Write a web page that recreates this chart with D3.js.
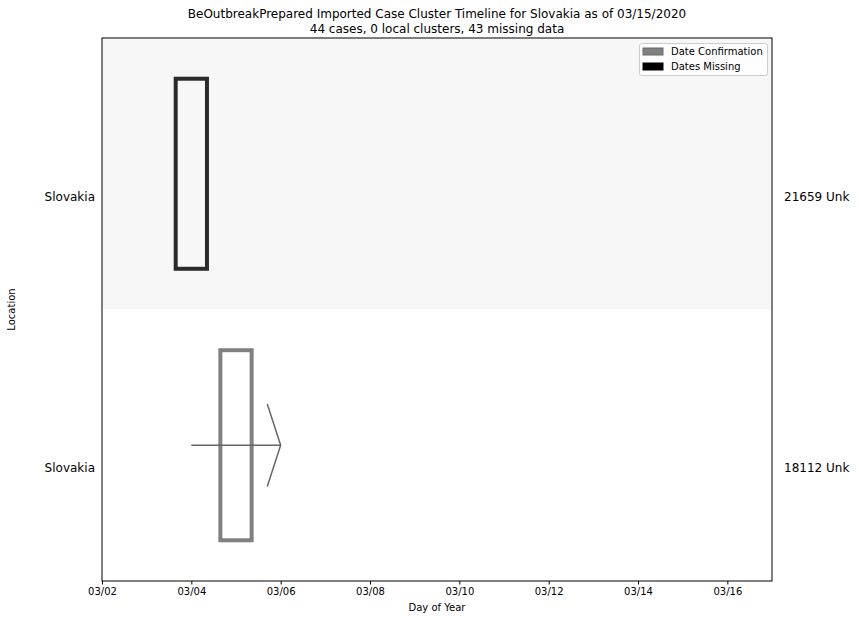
<!DOCTYPE html>
<html><head><meta charset="utf-8">
<script src="https://cdn.jsdelivr.net/npm/d3@7"></script>
<style>body{margin:0;background:#fff}svg{font-family:"DejaVu Sans",sans-serif}</style>
</head><body><svg id="c" width="859" height="620"></svg>
<script>
const titleLines = ["BeOutbreakPrepared Imported Case Cluster Timeline for Slovakia as of 03/15/2020","44 cases, 0 local clusters, 43 missing data"];
const rowLabels = ["Slovakia","Slovakia"];
const rowIds = ["21659 Unk","18112 Unk"];
const caseDates = ["2020-03-04","2020-03-05"];
const caseTypes = ["Dates Missing","Date Confirmation"];
const arrowStart = ["2020-03-04"];
const arrowEnd = ["2020-03-06"];
const arrowRow = [1];
const xDomain = ["2020-03-02","2020-03-17"];
const tickDates = ["2020-03-02","2020-03-04","2020-03-06","2020-03-08","2020-03-10","2020-03-12","2020-03-14","2020-03-16"];
const legendItems = ["Date Confirmation","Dates Missing"];

const colors = {"Date Confirmation":"#808080","Dates Missing":"#000000"};
const svg = d3.select("#c");
const L=102,R=772,T=38,B=581;
const x = d3.scaleUtc().domain(xDomain.map(d=>new Date(d))).range([L,R]);
const y = d3.scaleBand().domain(d3.range(rowLabels.length)).range([T,B]).padding(0);
const day = 86400000;

// band shading for first row
svg.append("rect").attr("x",L).attr("y",y(0)).attr("width",R-L).attr("height",y.bandwidth()).attr("fill","#f7f7f7");

// case rectangles
caseDates.forEach((d,i)=>{
  const t=new Date(d).getTime();
  const x0=x(new Date(t-0.35*day)), x1=x(new Date(t+0.35*day));
  const yc=y(i)+y.bandwidth()/2, h=y.bandwidth()*0.7;
  svg.append("rect").attr("x",x0).attr("y",yc-h/2).attr("width",x1-x0).attr("height",h)
    .attr("fill","none").attr("stroke",colors[caseTypes[i]]).attr("stroke-opacity",caseTypes[i]==="Dates Missing"?0.83:1).attr("stroke-width",4);
});

// arrows
arrowStart.forEach((d,i)=>{
  const r=arrowRow[i];
  const yc=y(r)+y.bandwidth()/2;
  const xs=x(new Date(d)), xe=x(new Date(arrowEnd[i]));
  const xb=x(new Date(new Date(arrowEnd[i]).getTime()-0.3*day));
  const hh=y.bandwidth()*0.152;
  svg.append("line").attr("x1",xs).attr("x2",xe).attr("y1",yc).attr("y2",yc).attr("stroke","#666").attr("stroke-width",1.5);
  svg.append("path").attr("d",`M${xb},${yc-hh}L${xe},${yc}L${xb},${yc+hh}`).attr("fill","none").attr("stroke","#666").attr("stroke-width",1.5);
});

// axes frame
svg.append("rect").attr("x",L).attr("y",T).attr("width",R-L).attr("height",B-T).attr("fill","none").attr("stroke","#000").attr("stroke-width",1);

const xa = svg.append("g").attr("transform",`translate(0,${B})`)
  .call(d3.axisBottom(x).tickValues(tickDates.map(d=>new Date(d))).tickFormat(d3.utcFormat("%m/%d")).tickSize(3.5).tickPadding(3.5));
xa.select(".domain").remove();
xa.selectAll("text").attr("font-size",10).attr("fill","#000").attr("font-family","DejaVu Sans");
xa.selectAll("line").attr("stroke","#000");

// row labels
rowLabels.forEach((s,i)=>{
  const yc=y(i)+y.bandwidth()/2+23;
  svg.append("text").attr("x",95).attr("y",yc).attr("dy","0.35em").attr("text-anchor","end").attr("font-size",12).text(s);
  svg.append("text").attr("x",784).attr("y",yc).attr("dy","0.35em").attr("text-anchor","start").attr("font-size",12).text(rowIds[i]);
});

// titles
titleLines.forEach((s,i)=>{
  svg.append("text").attr("x",(L+R)/2).attr("y",18+i*14.5).attr("text-anchor","middle").attr("font-size",12).text(s);
});
svg.append("text").attr("x",(L+R)/2).attr("y",611).attr("text-anchor","middle").attr("font-size",10).text("Day of Year");
svg.append("text").attr("transform",`translate(15,${(T+B)/2}) rotate(-90)`).attr("text-anchor","middle").attr("font-size",10).text("Location");

// legend
const lg=svg.append("g");
lg.append("rect").attr("x",639.5).attr("y",43.5).attr("width",128).attr("height",32).attr("rx",2).attr("fill","#fff").attr("fill-opacity",0.8).attr("stroke","#ccc");
legendItems.forEach((s,i)=>{
  const yy=48+i*15;
  lg.append("rect").attr("x",643).attr("y",yy).attr("width",20).attr("height",7)
    .attr("fill",colors[s]).attr("stroke",s==="Date Confirmation"?"#6a6a6a":"#000").attr("stroke-width",1);
  lg.append("text").attr("x",671).attr("y",yy+3.5).attr("dy","0.35em").attr("font-size",10).text(s);
});
</script></body></html>
